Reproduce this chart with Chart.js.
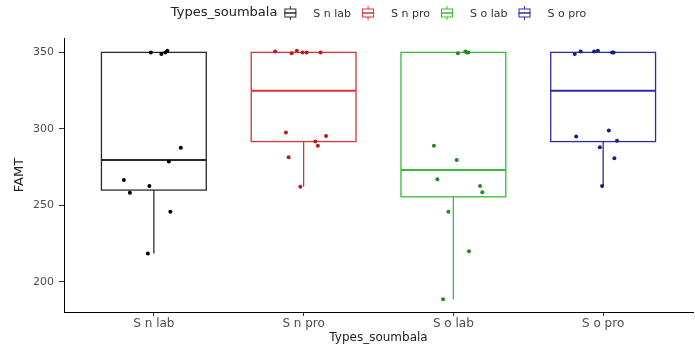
<!DOCTYPE html>
<html>
<head>
<meta charset="utf-8">
<script src="https://cdn.jsdelivr.net/npm/chart.js@4.4.0/dist/chart.umd.min.js"></script>
<style>
	html, body { margin: 0; padding: 0; background: #fff; }
	#wrap { width: 695px; height: 348px; position: relative; }
</style>
</head>
<body>
<div id="wrap"><canvas id="grafico"></canvas></div>
<script>
// Dados
var categorias = ["S n lab", "S n pro", "S o lab", "S o pro"];
var tituloLegenda = "Types_soumbala";
var yTicks = [200, 250, 300, 350];

// Estatísticas das caixas
var bigodeInf = [218.5, 262.2, 188.6, 262.4];
var q1 = [260, 291.7, 255.6, 291.7];
var mediana = [279.7, 325, 273.1, 325];
var q3 = [350, 350, 350, 350];
var bigodeSup = [350, 350, 350, 350];

// Pontos de cada grupo (valor) e o jitter horizontal
var snLab = [350, 349, 350, 351, 287.7, 278.6, 266.6, 262.6, 258.3, 245.8, 218.5];
var snLabJitter = [-0.02, 0.05, 0.077, 0.09, 0.18, 0.1, -0.2, -0.03, -0.16, 0.11, -0.04];

var snPro = [350.5, 349.5, 351, 350, 350, 350, 297.6, 295.4, 291.7, 288.9, 281.5, 262.2];
var snProJitter = [-0.19, -0.08, -0.045, -0.007, 0.02, 0.113, -0.118, 0.15, 0.078, 0.095, -0.1, -0.022];

var soLab = [349.5, 350.5, 350, 350, 288.9, 279.7, 267, 262.6, 258.5, 245.8, 220, 188.6];
var soLabJitter = [0.03, 0.08, 0.09, 0.1, -0.13, 0.022, -0.107, 0.178, 0.193, -0.033, 0.104, -0.069];

var soPro = [349, 350.5, 350.5, 351, 350, 350, 298.9, 295, 292.3, 288, 280.8, 262.6];
var soProJitter = [-0.19, -0.15, -0.06, -0.035, 0.06, 0.07, 0.038, -0.18, 0.093, -0.022, 0.075, -0.007];

var valores = [snLab, snPro, soLab, soPro];
var jitters = [snLabJitter, snProJitter, soLabJitter, soProJitter];

// Estilos
var coresCaixa = ["#2b2b2b", "#d83434", "#35bd35", "#2c2ca0"];
var coresPontos = ["#000000", "#b81c1c", "#1f8a1f", "#1a1a88"];
var larguraCaixa = 0.7;
var fonte = "'DejaVu Sans', 'Liberation Sans', Arial, sans-serif";

// Desenha as caixas (boxplot) usando as escalas do chartJS
var caixasPlugin = {
	id: "caixas",
	beforeDatasetsDraw(chart) {
		const ctx = chart.ctx;
		const x = chart.scales.x;
		const y = chart.scales.y;
		ctx.save();
		for (let i = 0; i < categorias.length; i++) {
			const cx = x.getPixelForValue(i + 1);
			const esq = x.getPixelForValue(i + 1 - larguraCaixa / 2);
			const dir = x.getPixelForValue(i + 1 + larguraCaixa / 2);
			const yMin = y.getPixelForValue(bigodeInf[i]);
			const yQ1 = y.getPixelForValue(q1[i]);
			const yMed = y.getPixelForValue(mediana[i]);
			const yQ3 = y.getPixelForValue(q3[i]);
			const yMax = y.getPixelForValue(bigodeSup[i]);

			ctx.strokeStyle = coresCaixa[i];
			ctx.lineWidth = 1.3;

			// bigodes
			ctx.beginPath();
			ctx.moveTo(cx, yQ1);
			ctx.lineTo(cx, yMin);
			ctx.moveTo(cx, yQ3);
			ctx.lineTo(cx, yMax);
			ctx.stroke();

			// caixa
			ctx.strokeRect(esq, yQ3, dir - esq, yQ1 - yQ3);

			// mediana
			ctx.lineWidth = 2;
			ctx.beginPath();
			ctx.moveTo(esq, yMed);
			ctx.lineTo(dir, yMed);
			ctx.stroke();
		}
		ctx.restore();
	},
};

// Legenda no topo, no estilo do ggplot (título na mesma linha)
var legendaPlugin = {
	id: "legenda",
	afterDraw(chart) {
		const ctx = chart.ctx;
		const area = chart.chartArea;
		const y = 13;
		const icone = 12;
		ctx.save();
		ctx.textBaseline = "middle";
		ctx.textAlign = "left";

		ctx.font = "13px " + fonte;
		const tituloW = ctx.measureText(tituloLegenda).width;
		ctx.font = "11px " + fonte;
		const larguras = categorias.map((c) => ctx.measureText(c).width);

		var total = tituloW + 7;
		for (let i = 0; i < categorias.length; i++) {
			total += icone + 17 + larguras[i];
			if (i < categorias.length - 1) total += 11;
		}

		var x = (area.left + area.right) / 2 - total / 2;
		ctx.fillStyle = "#222";
		ctx.font = "13px " + fonte;
		ctx.fillText(tituloLegenda, x, y);
		x += tituloW + 7;

		ctx.font = "11px " + fonte;
		for (let i = 0; i < categorias.length; i++) {
			const cx = x + icone / 2;
			ctx.strokeStyle = coresCaixa[i];
			ctx.lineWidth = 1;
			ctx.beginPath();
			ctx.moveTo(cx, y - 7);
			ctx.lineTo(cx, y - 4);
			ctx.moveTo(cx, y + 4);
			ctx.lineTo(cx, y + 7);
			ctx.stroke();
			ctx.strokeRect(x + 0.5, y - 4, icone - 1, 8);
			ctx.lineWidth = 1.5;
			ctx.beginPath();
			ctx.moveTo(x, y);
			ctx.lineTo(x + icone, y);
			ctx.stroke();

			x += icone + 17;
			ctx.fillStyle = "#333";
			ctx.fillText(categorias[i], x, y + 1);
			x += larguras[i] + 11;
		}
		ctx.restore();
	},
};

var datasets = [];
for (let i = 0; i < categorias.length; i++) {
	datasets.push({
		label: categorias[i],
		data: valores[i].map((v, k) => ({ x: i + 1 + jitters[i][k], y: v })),
		backgroundColor: coresPontos[i],
		borderColor: coresPontos[i],
		pointRadius: 2,
		pointHoverRadius: 2,
		borderWidth: 0,
	});
}

var grafico = new Chart(document.getElementById("grafico"), {
	type: "scatter",
	data: { datasets: datasets },
	plugins: [caixasPlugin, legendaPlugin],
	options: {
		responsive: true,
		maintainAspectRatio: false,
		animation: false,
		layout: { padding: { top: 38, left: 0, right: 0, bottom: 0 } },
		plugins: {
			legend: { display: false },
			tooltip: { enabled: false },
		},
		scales: {
			x: {
				type: "linear",
				min: 0.4,
				max: 4.6,
				afterBuildTicks: (s) => {
					s.ticks = categorias.map((c, i) => ({ value: i + 1 }));
				},
				afterFit: (s) => {
					s.height = 36;
				},
				ticks: {
					callback: (v) => categorias[v - 1],
					font: { family: fonte, size: 12 },
					color: "#4d4d4d",
					padding: 1,
					maxRotation: 0,
					autoSkip: false,
				},
				grid: { drawOnChartArea: false, drawTicks: true, tickLength: 4, color: "#333" },
				border: { display: true, color: "#000", width: 1 },
				title: {
					display: true,
					text: tituloLegenda,
					font: { family: fonte, size: 12 },
					color: "#222",
					padding: { top: 0, bottom: 3 },
				},
			},
			y: {
				min: 180.3,
				max: 359.4,
				afterBuildTicks: (s) => {
					s.ticks = yTicks.map((v) => ({ value: v }));
				},
				afterFit: (s) => {
					s.width = 64;
				},
				ticks: {
					font: { family: fonte, size: 11 },
					color: "#4d4d4d",
					padding: 5,
				},
				grid: { drawOnChartArea: false, drawTicks: true, tickLength: 5, color: "#333" },
				border: { display: true, color: "#000", width: 1 },
				title: {
					display: true,
					text: "FAMT",
					font: { family: fonte, size: 13 },
					color: "#222",
					padding: { top: 12, bottom: 0 },
				},
			},
		},
	},
});
</script>
</body>
</html>
